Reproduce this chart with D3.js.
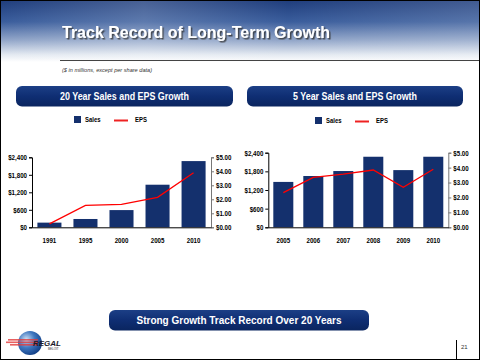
<!DOCTYPE html>
<html><head><meta charset="utf-8">
<script src="https://cdn.jsdelivr.net/npm/d3@7"></script>
<style>body{margin:0;background:#fff}svg{display:block}</style>
</head><body>
<script>
// ---- data ----
const years20 = ["1991","1995","2000","2005","2010"];
const sales20 = [160, 285, 590, 1460, 2270];
const eps20   = [0.24, 1.57, 1.64, 2.14, 3.90];

const years5 = ["2005","2006","2007","2008","2009","2010"];
const sales5 = [1460, 1650, 1810, 2270, 1840, 2270];
const eps5   = [2.32, 3.35, 3.57, 3.84, 2.68, 3.89];

const salesTicks = [0, 600, 1200, 1800, 2400];
const salesTickLabels = ["$0", "$600", "$1,200", "$1,800", "$2,400"];
const epsTicks = [0, 1, 2, 3, 4, 5];
const epsTickLabels = ["$0.00", "$1.00", "$2.00", "$3.00", "$4.00", "$5.00"];

const W = 480, H = 360;
const NAVY = "#14306d";
const FONT = "'Liberation Sans',Arial,sans-serif";

const svg = d3.select("body").append("svg").attr("width", W).attr("height", H);
const defs = svg.append("defs");

function condense(sel, f){
  sel.each(function(){
    const L = this.getComputedTextLength();
    if (L > 0) d3.select(this).attr("textLength", L*f).attr("lengthAdjust","spacingAndGlyphs");
  });
}

// header gradient
const hg = defs.append("linearGradient").attr("id","hg").attr("x1",0).attr("y1",0).attr("x2",0).attr("y2",1);
[[0,"#1f3d7c"],[0.35,"#3a5d9c"],[0.65,"#92a6c9"],[0.88,"#e3e9f1"],[1,"#ffffff"]].forEach(s=>hg.append("stop").attr("offset",s[0]).attr("stop-color",s[1]));
const hg2 = defs.append("linearGradient").attr("id","hg2").attr("x1",0).attr("y1",0).attr("x2",1).attr("y2",0);
[[0,"#ffffff",0.0],[0.3,"#ffffff",0.18],[0.6,"#ffffff",0.0],[1,"#ffffff",0.15]].forEach(s=>hg2.append("stop").attr("offset",s[0]).attr("stop-color",s[1]).attr("stop-opacity",s[2]));
const pg = defs.append("linearGradient").attr("id","pg").attr("x1",0).attr("y1",0).attr("x2",0).attr("y2",1);
[[0,"#1c3f86"],[0.5,"#0f2e73"],[1,"#0a255f"]].forEach(s=>pg.append("stop").attr("offset",s[0]).attr("stop-color",s[1]));
const lg = defs.append("radialGradient").attr("id","lg").attr("cx",0.35).attr("cy",0.35).attr("r",0.7);
[[0,"#cfe0f5"],[0.5,"#3f78c0"],[1,"#123f86"]].forEach(s=>lg.append("stop").attr("offset",s[0]).attr("stop-color",s[1]));
const shadow = defs.append("filter").attr("id","sh").attr("x","-5%").attr("y","-20%").attr("width","115%").attr("height","160%");
shadow.append("feDropShadow").attr("dx",1.5).attr("dy",1.5).attr("stdDeviation",0.6).attr("flood-color","#333").attr("flood-opacity",0.8);

// header
svg.append("rect").attr("x",0).attr("y",0).attr("width",W).attr("height",62).attr("fill","url(#hg)");
svg.append("rect").attr("x",0).attr("y",0).attr("width",W).attr("height",62).attr("fill","url(#hg2)");
svg.append("text").attr("x",62).attr("y",38).attr("fill","#fff").attr("font-family",FONT)
  .attr("font-weight","bold").attr("font-size",16.5).attr("filter","url(#sh)").attr("textLength",268).attr("lengthAdjust","spacingAndGlyphs")
  .text("Track Record of Long-Term Growth");
svg.append("line").attr("x1",60).attr("x2",W).attr("y1",60.5).attr("y2",60.5).attr("stroke","#444").attr("stroke-width",1);
svg.append("text").attr("x",62).attr("y",72).attr("font-family",FONT).attr("font-style","italic")
  .attr("font-size",5.5).attr("fill","#333").attr("textLength",90).attr("lengthAdjust","spacingAndGlyphs")
  .text("($ in millions, except per share data)");

function pill(x,y,w,h,label,tw){
  svg.append("rect").attr("x",x).attr("y",y).attr("width",w).attr("height",h).attr("rx",6).attr("fill","url(#pg)");
  svg.append("text").attr("x",x+w/2).attr("y",y+h/2+4).attr("text-anchor","middle").attr("fill","#fff")
    .attr("font-family",FONT).attr("font-weight","bold").attr("font-size",11)
    .attr("textLength",tw).attr("lengthAdjust","spacingAndGlyphs").text(label);
}
pill(16,86,217,20.5,"20 Year Sales and EPS Growth",129);
pill(247,86,216,20.5,"5 Year Sales and EPS Growth",124);
pill(109,310,260,20.5,"Strong Growth Track Record Over 20 Years",205);

function legend(sx, y){
  const g = svg.append("g").attr("font-family",FONT).attr("font-weight","bold").attr("font-size",7).attr("fill","#000");
  g.append("rect").attr("x",sx).attr("y",y-4).attr("width",7).attr("height",7).attr("fill",NAVY);
  g.append("text").attr("x",sx+11).attr("y",y+2).text("Sales");
  g.append("line").attr("x1",sx+40).attr("x2",sx+54).attr("y1",y+0.5).attr("y2",y+0.5).attr("stroke","#ee2222").attr("stroke-width",2);
  g.append("text").attr("x",sx+61).attr("y",y+2).text("EPS");
  condense(g.selectAll("text"), 0.85);
}
legend(74,120);
legend(315,121);

function chart(cats, sales, eps, x0, x1, yTop, yBot, pIn, pOut){
  const x = d3.scaleBand().domain(cats).range([x0,x1]).paddingInner(pIn).paddingOuter(pOut);
  const yL = d3.scaleLinear().domain([0,2400]).range([yBot,yTop]);
  const yR = d3.scaleLinear().domain([0,5]).range([yBot,yTop]);
  const g = svg.append("g");
  g.selectAll("rect.bar").data(cats).enter().append("rect").attr("class","bar")
    .attr("x",d=>x(d)).attr("width",x.bandwidth())
    .attr("y",(d,i)=>yL(sales[i])).attr("height",(d,i)=>yBot-yL(sales[i])).attr("fill",NAVY);
  const line = d3.line().x((d,i)=>x(cats[i])+x.bandwidth()/2).y(d=>yR(d));
  g.append("path").datum(eps).attr("d",line).attr("fill","none").attr("stroke","#ff0000").attr("stroke-width",1.3);

  const la = g.append("g").attr("transform",`translate(${x0},0)`)
    .call(d3.axisLeft(yL).tickValues(salesTicks).tickFormat((d,i)=>salesTickLabels[i]).tickSize(3).tickPadding(2));
  const ra = g.append("g").attr("transform",`translate(${x1},0)`)
    .call(d3.axisRight(yR).tickValues(epsTicks).tickFormat((d,i)=>epsTickLabels[i]).tickSize(3).tickPadding(2));
  const xa = g.append("g").attr("transform",`translate(0,${yBot})`)
    .call(d3.axisBottom(x).tickSize(0).tickPadding(10));
  [la,ra,xa].forEach(a=>{
    a.selectAll("text").attr("font-family",FONT).attr("font-weight","bold").attr("font-size",7.5).attr("fill","#000");
    a.selectAll("path,line").attr("stroke","#000");
    condense(a.selectAll("text"), 0.82);
  });
  ra.selectAll("path,line").attr("stroke","#777");
  xa.select("path").attr("stroke","#000");
}
chart(years20, sales20, eps20, 32, 211, 157.3, 227.3, 0.333, 0.15);
chart(years5, sales5, eps5, 268.3, 448.3, 152.7, 227.3, 0.333, 0.167);

// logo
const lgG = svg.append("g");
lgG.append("circle").attr("cx",30).attr("cy",343).attr("r",12).attr("fill","url(#lg)");
[[8,339,30],[6,341.5,32],[10,344,28]].forEach(s=>lgG.append("rect").attr("x",s[0]).attr("y",s[1]).attr("width",s[2]).attr("height",1.6).attr("fill","#e23a3a").attr("opacity",0.8));
lgG.append("text").attr("x",33).attr("y",346).attr("font-family",FONT).attr("font-weight","bold")
  .attr("font-style","italic").attr("font-size",8).attr("fill","#1a1a2a").text("REGAL");
lgG.append("text").attr("x",48).attr("y",350).attr("font-family",FONT).attr("font-size",3)
  .attr("fill","#333").text("BELOIT");

// page number
svg.append("line").attr("x1",456.5).attr("x2",456.5).attr("y1",340).attr("y2",360).attr("stroke","#000");
svg.append("text").attr("x",461).attr("y",349).attr("font-family",FONT).attr("font-size",6).attr("fill","#333").text("21");

// frame
svg.append("rect").attr("x",0.5).attr("y",0.5).attr("width",W-1).attr("height",H-1).attr("fill","none").attr("stroke","#000");
</script>
</body></html>
